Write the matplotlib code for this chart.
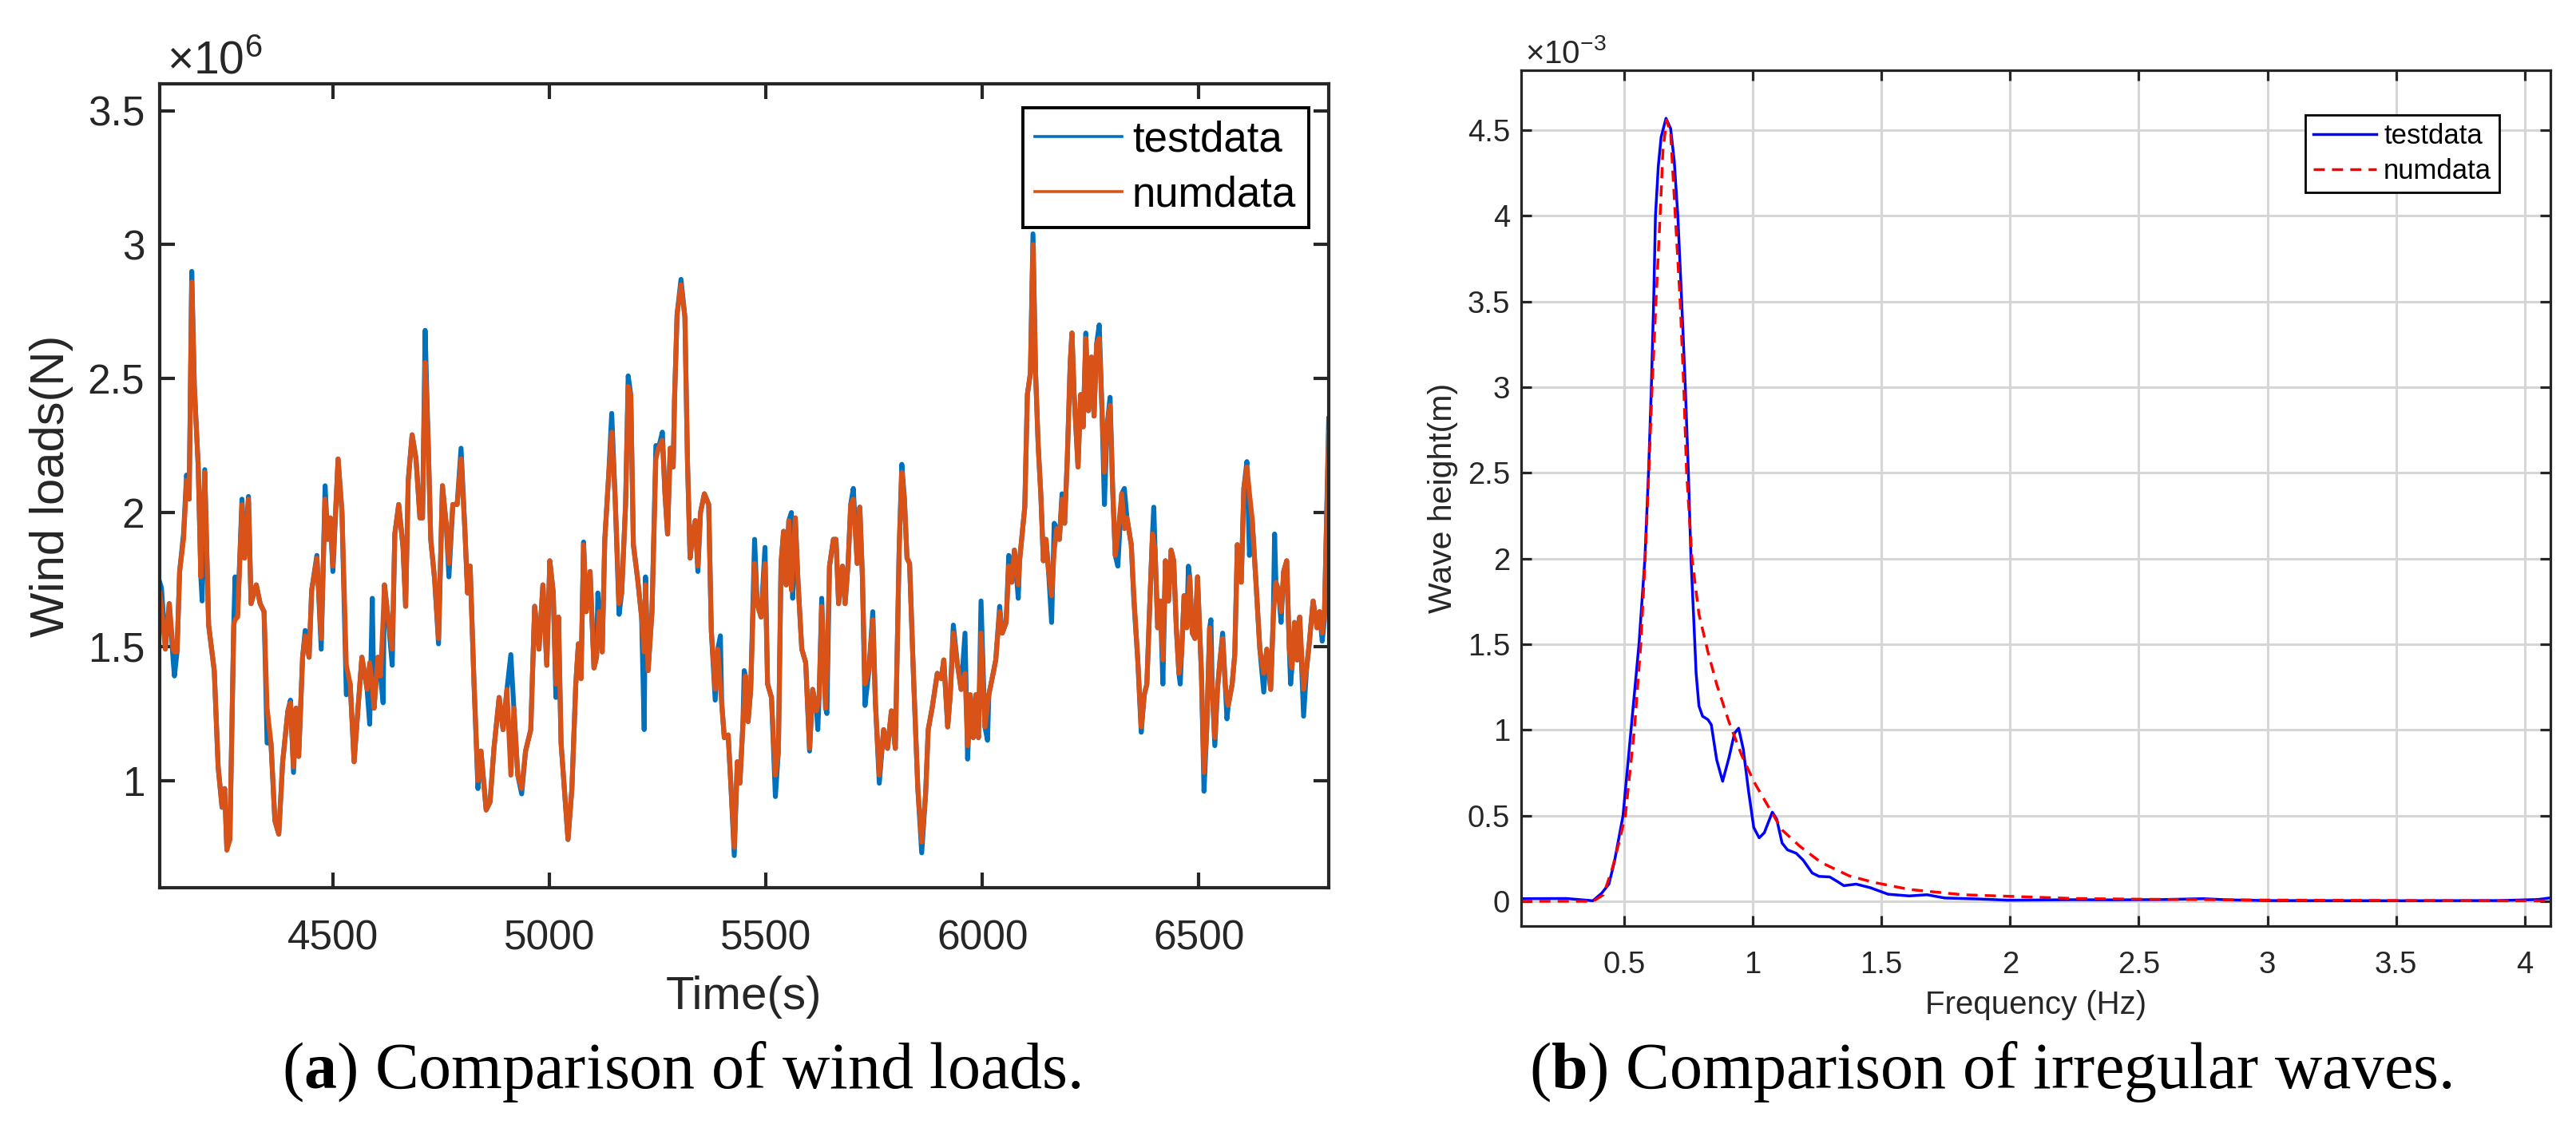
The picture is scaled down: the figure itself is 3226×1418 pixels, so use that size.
import numpy as np
import matplotlib
matplotlib.use("Agg")
import matplotlib.pyplot as plt
from matplotlib.ticker import FuncFormatter

# (a) wind loads, values in 10^6 N
time_s = [
    4100, 4104, 4113, 4122, 4131, 4134, 4140, 4146, 4155, 4162,
    4168, 4174, 4180, 4189, 4195, 4198, 4204, 4213, 4226, 4235,
    4244, 4250, 4255, 4262, 4271, 4274, 4280, 4290, 4296, 4305,
    4311, 4323, 4332, 4341, 4348, 4357, 4366, 4375, 4384, 4396,
    4402, 4409, 4415, 4421, 4430, 4436, 4445, 4451, 4463, 4473,
    4482, 4488, 4494, 4500, 4512, 4521, 4531, 4540, 4549, 4558,
    4567, 4579, 4585, 4591, 4595, 4604, 4610, 4616, 4619, 4628,
    4637, 4643, 4652, 4662, 4668, 4674, 4683, 4692, 4701, 4707,
    4713, 4720, 4726, 4735, 4744, 4753, 4762, 4768, 4777, 4787,
    4796, 4805, 4811, 4817, 4826, 4835, 4842, 4854, 4863, 4872,
    4884, 4893, 4902, 4911, 4918, 4927, 4936, 4945, 4957, 4966,
    4976, 4985, 4994, 5001, 5009, 5015, 5021, 5027, 5036, 5043,
    5052, 5061, 5067, 5073, 5079, 5085, 5094, 5103, 5109, 5112,
    5115, 5122, 5128, 5137, 5144, 5152, 5161, 5167, 5176, 5182,
    5188, 5194, 5204, 5213, 5219, 5222, 5228, 5237, 5246, 5252,
    5261, 5267, 5273, 5279, 5286, 5289, 5295, 5304, 5313, 5319,
    5325, 5331, 5337, 5343, 5349, 5358, 5368, 5374, 5383, 5389,
    5395, 5398, 5404, 5413, 5419, 5427, 5434, 5440, 5447, 5450,
    5453, 5459, 5465, 5474, 5480, 5489, 5498, 5504, 5513, 5522,
    5529, 5535, 5541, 5547, 5553, 5559, 5562, 5568, 5574, 5583,
    5592, 5601, 5608, 5617, 5620, 5623, 5629, 5638, 5641, 5647,
    5656, 5662, 5668, 5677, 5683, 5690, 5696, 5702, 5711, 5717,
    5723, 5729, 5738, 5747, 5753, 5762, 5772, 5781, 5790, 5799,
    5808, 5814, 5820, 5826, 5832, 5841, 5851, 5860, 5869, 5875,
    5884, 5896, 5905, 5911, 5920, 5926, 5933, 5942, 5951, 5960,
    5966, 5972, 5979, 5985, 5991, 5997, 6006, 6012, 6015, 6025,
    6031, 6040, 6046, 6055, 6061, 6068, 6074, 6083, 6086, 6092,
    6098, 6104, 6111, 6117, 6123, 6129, 6135, 6141, 6147, 6153,
    6160, 6166, 6172, 6178, 6184, 6190, 6196, 6203, 6207, 6212,
    6221, 6227, 6233, 6239, 6245, 6252, 6258, 6264, 6270, 6276,
    6282, 6288, 6295, 6301, 6307, 6313, 6322, 6328, 6334, 6344,
    6350, 6359, 6367, 6374, 6380, 6387, 6393, 6396, 6399, 6405,
    6411, 6417, 6423, 6430, 6436, 6442, 6448, 6454, 6457, 6460,
    6466, 6472, 6476, 6479, 6485, 6491, 6497, 6506, 6512, 6518,
    6525, 6528, 6531, 6537, 6543, 6549, 6555, 6561, 6565, 6568,
    6577, 6583, 6589, 6598, 6604, 6611, 6617, 6623, 6632, 6641,
    6650, 6657, 6666, 6672, 6675, 6678, 6684, 6690, 6696, 6703,
    6709, 6712, 6715, 6721, 6727, 6733, 6742, 6749, 6755, 6764,
    6773, 6779, 6785, 6790, 6795, 6800,
]

numdata_mn = [
    1.70, 1.65, 1.49, 1.66, 1.49, 1.48, 1.48, 1.78, 1.90, 2.12,
    2.05, 2.86, 2.47, 2.17, 1.76, 1.95, 2.15, 1.58, 1.41, 1.05,
    0.90, 0.97, 0.74, 0.78, 1.58, 1.60, 1.61, 2.03, 1.83, 2.05,
    1.66, 1.73, 1.66, 1.63, 1.27, 1.14, 0.85, 0.80, 1.07, 1.26,
    1.29, 1.05, 1.27, 1.09, 1.46, 1.54, 1.46, 1.71, 1.83, 1.53,
    2.05, 1.90, 1.98, 1.80, 2.20, 2.00, 1.43, 1.36, 1.07, 1.27,
    1.46, 1.34, 1.44, 1.35, 1.27, 1.46, 1.39, 1.60, 1.73, 1.60,
    1.49, 1.92, 2.03, 1.87, 1.65, 2.12, 2.29, 2.20, 1.98, 1.98,
    2.56, 2.27, 1.90, 1.75, 1.53, 2.10, 1.95, 1.81, 2.03, 2.03,
    2.20, 1.93, 1.70, 1.80, 1.36, 1.00, 1.11, 0.89, 0.92, 1.12,
    1.31, 1.19, 1.34, 1.02, 1.27, 1.02, 0.97, 1.11, 1.19, 1.65,
    1.49, 1.73, 1.43, 1.82, 1.70, 1.36, 1.61, 1.14, 0.94, 0.78,
    0.97, 1.36, 1.51, 1.38, 1.88, 1.63, 1.78, 1.42, 1.46, 1.55,
    1.63, 1.48, 1.90, 2.14, 2.30, 2.05, 1.66, 1.70, 2.03, 2.47,
    2.44, 1.88, 1.75, 1.61, 1.48, 1.73, 1.41, 1.63, 2.20, 2.24,
    2.27, 2.07, 1.92, 2.24, 2.17, 2.42, 2.74, 2.85, 2.73, 2.19,
    1.83, 1.92, 1.97, 1.80, 2.00, 2.07, 2.03, 1.56, 1.34, 1.49,
    1.35, 1.29, 1.16, 1.17, 0.99, 0.75, 1.07, 0.99, 1.21, 1.30,
    1.39, 1.22, 1.34, 1.81, 1.66, 1.61, 1.81, 1.36, 1.31, 1.02,
    1.11, 1.81, 1.93, 1.73, 1.97, 1.71, 1.80, 1.98, 1.75, 1.49,
    1.44, 1.12, 1.34, 1.26, 1.28, 1.31, 1.65, 1.27, 1.40, 1.80,
    1.90, 1.90, 1.66, 1.80, 1.66, 1.81, 2.03, 2.05, 1.81, 2.02,
    1.76, 1.36, 1.41, 1.60, 1.29, 1.02, 1.19, 1.12, 1.26, 1.12,
    1.87, 2.15, 2.05, 1.83, 1.81, 1.39, 0.97, 0.77, 0.95, 1.19,
    1.27, 1.40, 1.38, 1.45, 1.20, 1.32, 1.55, 1.44, 1.34, 1.40,
    1.13, 1.32, 1.16, 1.32, 1.16, 1.55, 1.20, 1.28, 1.32, 1.40,
    1.45, 1.63, 1.55, 1.59, 1.80, 1.74, 1.86, 1.73, 1.82, 1.92,
    2.02, 2.44, 2.52, 3.00, 2.52, 2.25, 2.07, 1.82, 1.90, 1.78,
    1.69, 1.86, 1.94, 1.90, 2.05, 1.96, 2.19, 2.56, 2.67, 2.44,
    2.17, 2.44, 2.32, 2.65, 2.38, 2.58, 2.36, 2.63, 2.65, 2.40,
    2.15, 2.32, 2.40, 2.09, 1.84, 1.92, 2.07, 1.94, 1.98, 1.88,
    1.69, 1.45, 1.20, 1.32, 1.36, 1.67, 1.92, 1.89, 1.86, 1.57,
    1.67, 1.45, 1.82, 1.67, 1.86, 1.82, 1.57, 1.40, 1.43, 1.47,
    1.69, 1.57, 1.68, 1.76, 1.55, 1.53, 1.76, 1.40, 1.03, 1.18,
    1.57, 1.45, 1.34, 1.16, 1.34, 1.45, 1.53, 1.36, 1.30, 1.28,
    1.36, 1.47, 1.88, 1.74, 2.09, 2.17, 2.07, 1.98, 1.74, 1.49,
    1.40, 1.49, 1.34, 1.61, 1.68, 1.74, 1.71, 1.63, 1.78, 1.82,
    1.49, 1.45, 1.42, 1.59, 1.45, 1.61, 1.34, 1.42, 1.51, 1.67,
    1.57, 1.63, 1.55, 1.62, 1.95, 2.30,
]

testdata_mn = [
    1.74, 1.72, 1.50, 1.66, 1.45, 1.39, 1.48, 1.78, 1.92, 2.14,
    2.05, 2.90, 2.47, 2.17, 1.76, 1.67, 2.16, 1.58, 1.41, 1.05,
    0.90, 0.97, 0.75, 0.78, 1.58, 1.76, 1.62, 2.05, 1.83, 2.06,
    1.66, 1.73, 1.66, 1.63, 1.14, 1.14, 0.85, 0.80, 1.07, 1.26,
    1.30, 1.03, 1.27, 1.09, 1.46, 1.56, 1.46, 1.71, 1.84, 1.49,
    2.10, 1.90, 1.98, 1.78, 2.20, 2.00, 1.32, 1.36, 1.07, 1.27,
    1.46, 1.34, 1.21, 1.68, 1.27, 1.46, 1.39, 1.29, 1.73, 1.60,
    1.43, 1.92, 2.03, 1.87, 1.65, 2.12, 2.29, 2.20, 1.98, 1.98,
    2.68, 2.27, 1.90, 1.75, 1.51, 2.10, 1.95, 1.76, 2.03, 2.03,
    2.24, 1.93, 1.70, 1.80, 1.36, 0.97, 1.11, 0.89, 0.92, 1.12,
    1.31, 1.19, 1.34, 1.47, 1.27, 1.02, 0.95, 1.11, 1.19, 1.65,
    1.49, 1.73, 1.43, 1.82, 1.70, 1.31, 1.61, 1.14, 0.94, 0.78,
    0.97, 1.36, 1.51, 1.38, 1.89, 1.63, 1.78, 1.42, 1.46, 1.70,
    1.63, 1.48, 1.90, 2.14, 2.37, 2.05, 1.62, 1.70, 2.03, 2.51,
    2.44, 1.88, 1.75, 1.61, 1.19, 1.76, 1.41, 1.63, 2.25, 2.24,
    2.30, 2.07, 1.92, 2.24, 2.17, 2.42, 2.74, 2.87, 2.73, 2.19,
    1.83, 1.92, 1.97, 1.78, 2.00, 2.07, 2.03, 1.56, 1.30, 1.49,
    1.54, 1.29, 1.16, 1.17, 0.99, 0.72, 1.07, 0.99, 1.21, 1.41,
    1.39, 1.22, 1.34, 1.90, 1.66, 1.61, 1.87, 1.36, 1.31, 0.94,
    1.11, 1.81, 1.93, 1.73, 1.97, 2.00, 1.68, 1.98, 1.75, 1.49,
    1.44, 1.11, 1.34, 1.26, 1.19, 1.31, 1.68, 1.27, 1.25, 1.80,
    1.90, 1.90, 1.66, 1.80, 1.66, 1.81, 2.03, 2.09, 1.81, 2.02,
    1.76, 1.28, 1.41, 1.63, 1.29, 0.99, 1.19, 1.12, 1.26, 1.12,
    1.87, 2.18, 2.05, 1.83, 1.81, 1.39, 0.97, 0.73, 0.95, 1.19,
    1.27, 1.40, 1.38, 1.45, 1.20, 1.32, 1.58, 1.44, 1.34, 1.55,
    1.08, 1.32, 1.16, 1.32, 1.16, 1.67, 1.20, 1.15, 1.32, 1.40,
    1.45, 1.65, 1.55, 1.59, 1.84, 1.74, 1.86, 1.68, 1.82, 1.92,
    2.02, 2.44, 2.52, 3.04, 2.52, 2.25, 2.07, 1.82, 1.90, 1.78,
    1.59, 1.96, 1.94, 1.90, 2.07, 1.96, 2.19, 2.56, 2.67, 2.44,
    2.17, 2.44, 2.32, 2.67, 2.38, 2.58, 2.36, 2.63, 2.70, 2.40,
    2.03, 2.32, 2.43, 2.09, 1.84, 1.80, 2.07, 2.09, 1.98, 1.88,
    1.67, 1.45, 1.18, 1.32, 1.36, 1.67, 1.92, 2.02, 1.86, 1.57,
    1.67, 1.36, 1.82, 1.67, 1.86, 1.82, 1.57, 1.40, 1.36, 1.47,
    1.69, 1.57, 1.80, 1.76, 1.55, 1.53, 1.76, 1.40, 0.96, 1.18,
    1.57, 1.60, 1.34, 1.13, 1.34, 1.45, 1.55, 1.36, 1.23, 1.28,
    1.36, 1.47, 1.88, 1.74, 2.09, 2.19, 1.84, 1.98, 1.74, 1.49,
    1.33, 1.49, 1.34, 1.61, 1.92, 1.74, 1.71, 1.59, 1.78, 1.82,
    1.49, 1.36, 1.42, 1.59, 1.45, 1.61, 1.24, 1.42, 1.51, 1.67,
    1.57, 1.63, 1.52, 1.60, 1.98, 2.35,
]

# (b) irregular waves, wave height in 10^-3 m
freq_test = [
    0.10, 0.276, 0.379, 0.413, 0.441, 0.462, 0.496, 0.527, 0.558, 0.581,
    0.595, 0.606, 0.615, 0.622, 0.633, 0.644, 0.663, 0.681, 0.695, 0.709,
    0.724, 0.738, 0.750, 0.760, 0.771, 0.780, 0.791, 0.805, 0.826, 0.839,
    0.860, 0.883, 0.908, 0.929, 0.945, 0.963, 0.984, 1.004, 1.025, 1.045,
    1.076, 1.093, 1.114, 1.135, 1.169, 1.196, 1.231, 1.258, 1.299, 1.327,
    1.354, 1.402, 1.457, 1.526, 1.608, 1.677, 1.746, 1.883, 1.993, 2.25,
    2.40, 2.60, 2.75, 2.85, 3.00, 3.50, 3.90, 4.05, 4.10,
]
height_test = [
    0.015, 0.016, 0.003, 0.047, 0.10, 0.227, 0.50, 1.00, 1.50, 2.00,
    2.50, 3.00, 3.50, 4.00, 4.29, 4.46, 4.57, 4.51, 4.32, 4.00,
    3.50, 3.00, 2.50, 2.00, 1.64, 1.33, 1.14, 1.08, 1.06, 1.03,
    0.825, 0.70, 0.84, 0.98, 1.01, 0.89, 0.64, 0.43, 0.37, 0.40,
    0.52, 0.48, 0.34, 0.30, 0.28, 0.24, 0.165, 0.145, 0.142, 0.117,
    0.091, 0.10, 0.079, 0.041, 0.031, 0.038, 0.019, 0.013, 0.006, 0.009,
    0.008, 0.010, 0.015, 0.008, 0.004, 0.003, 0.004, 0.010, 0.020,
]

freq_num = [
    0.10, 0.38, 0.42, 0.455, 0.482, 0.505, 0.540, 0.565, 0.582, 0.596,
    0.609, 0.624, 0.640, 0.651, 0.665, 0.681, 0.699, 0.718, 0.732, 0.743,
    0.764, 0.791, 0.826, 0.860, 0.908, 0.956, 1.004, 1.059, 1.114, 1.183,
    1.265, 1.375, 1.471, 1.608, 1.815, 2.251, 2.50, 3.00, 3.50, 4.10,
]
height_num = [
    0.0, 0.0, 0.038, 0.195, 0.353, 0.50, 1.00, 1.50, 2.00, 2.50,
    3.00, 3.50, 4.00, 4.38, 4.56, 4.48, 4.00, 3.50, 3.00, 2.50,
    2.00, 1.675, 1.455, 1.266, 1.045, 0.856, 0.699, 0.557, 0.416, 0.321,
    0.227, 0.148, 0.110, 0.069, 0.038, 0.016, 0.012, 0.007, 0.004, 0.002,
]

DARK = "#262626"

plt.rcParams['font.family'] = ['Liberation Sans', 'DejaVu Sans']
plt.rcParams['mathtext.fontset'] = 'custom'
plt.rcParams['mathtext.rm'] = 'Liberation Sans'
plt.rcParams['mathtext.bf'] = 'Liberation Serif:bold'


def plain_number(v, pos):
    return f"{v:g}"


def style_axes(ax, spine_w, tick_len, tick_w, size, pad_x, pad_y):
    for spine in ax.spines.values():
        spine.set_linewidth(spine_w)
        spine.set_color(DARK)
    ax.tick_params(direction="in", top=True, right=True, length=tick_len,
                   width=tick_w, labelsize=size, colors=DARK)
    ax.tick_params(axis="x", pad=pad_x)
    ax.tick_params(axis="y", pad=pad_y)
    ax.xaxis.set_major_formatter(FuncFormatter(plain_number))
    ax.yaxis.set_major_formatter(FuncFormatter(plain_number))


fig = plt.figure(figsize=(32.26, 14.18), dpi=100)
ax1 = fig.add_axes([0.0620, 0.2158, 0.4538, 0.7102])
ax2 = fig.add_axes([0.5905, 0.1819, 0.3996, 0.7560])

# wind loads
ax1.plot(time_s, testdata_mn, color="#0072BD", lw=4.4, label="testdata")
ax1.plot(time_s, numdata_mn, color="#D95319", lw=4.4, label="numdata")
ax1.set_xlim(4100, 6800)
ax1.set_ylim(0.6, 3.6)
ax1.set_xticks([4500, 5000, 5500, 6000, 6500])
ax1.set_yticks([1, 1.5, 2, 2.5, 3, 3.5])
style_axes(ax1, 3.0, 13.5, 3.0, 37, 28.5, 13.5)
ax1.set_xlabel("Time(s)", fontsize=42, color=DARK)
ax1.set_ylabel("Wind loads(N)", fontsize=43, color=DARK)
ax1.xaxis.set_label_coords(0.5, -0.109)
ax1.yaxis.set_label_coords(-0.0738, 0.5)
ax1.text(0.006, 1.012, r"$\times\mathdefault{10^{6}}$", transform=ax1.transAxes,
         fontsize=41, va="baseline", ha="left", color=DARK)
leg1 = ax1.legend(loc="upper right", bbox_to_anchor=(0.9829, 0.9702),
                  borderaxespad=0, fontsize=38, handlelength=2.05,
                  handletextpad=0.25, labelspacing=0.35, borderpad=0.3,
                  fancybox=False, framealpha=1, edgecolor="black")
leg1.get_frame().set_linewidth(2.8)
for handle in leg1.legend_handles:
    handle.set_linewidth(2.6)

# irregular waves
ax2.plot(freq_test, height_test, color="#0000FF", lw=2.5, label="testdata")
ax2.plot(freq_num, height_num, color="#FF0000", lw=2.5, ls=(0, (4, 2.6)),
         label="numdata")
ax2.set_xlim(0.1, 4.1)
ax2.set_ylim(-0.145, 4.85)
ax2.set_xticks([0.5, 1, 1.5, 2, 2.5, 3, 3.5, 4])
ax2.set_yticks([0, 0.5, 1, 1.5, 2, 2.5, 3, 3.5, 4, 4.5])
ax2.grid(True, color="#d6d6d6", lw=2.2)
ax2.set_axisbelow(True)
style_axes(ax2, 2.3, 9.5, 2.3, 27.5, 22, 10)
ax2.set_xlabel("Frequency (Hz)", fontsize=29, color=DARK)
ax2.set_ylabel("Wave height(m)", fontsize=29.5, color=DARK)
ax2.xaxis.set_label_coords(0.5, -0.0746)
ax2.yaxis.set_label_coords(-0.0613, 0.5)
ax2.text(0.004, 1.0084, r"$\times\mathdefault{10^{-3}}$", transform=ax2.transAxes,
         fontsize=29, va="baseline", ha="left", color=DARK)
leg2 = ax2.legend(loc="upper right", bbox_to_anchor=(0.9503, 0.9478),
                  borderaxespad=0, fontsize=25, handlelength=2.3,
                  handletextpad=0.25, labelspacing=0.33, borderpad=0.28,
                  fancybox=False, framealpha=1, edgecolor="black")
leg2.get_frame().set_linewidth(2.0)

# sub-captions
fig.text(0.2647, 0.0388, r"($\mathbf{a}$) Comparison of wind loads.",
         ha="center", va="baseline", fontsize=59, family="Liberation Serif")
fig.text(0.7728, 0.0388, r"($\mathbf{b}$) Comparison of irregular waves.",
         ha="center", va="baseline", fontsize=59, family="Liberation Serif")

fig.savefig("out.png", dpi=100)
